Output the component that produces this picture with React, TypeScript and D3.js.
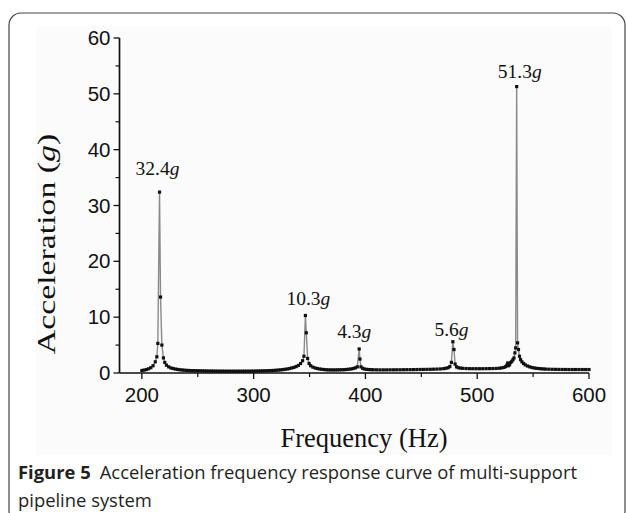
import React, { useEffect, useRef } from 'react';
import * as d3 from 'd3';

// frequency (Hz) and acceleration (g)
const freqs = [
  200, 202, 204, 206, 208, 210, 212, 213.4, 214.3, 215.8, 216.7, 217.9, 219.3, 220.5, 222, 224, 226, 228, 230,
  232, 234, 236, 238, 240, 242, 244, 246, 248, 250, 252, 254, 256, 258, 260, 262, 264, 266, 268, 270,
  272, 274, 276, 278, 280, 282, 284, 286, 288, 290, 292, 294, 296, 298, 300, 302, 304, 306, 308, 310,
  312, 314, 316, 318, 320, 322, 324, 326, 328, 330, 332, 334, 336, 338, 340, 342, 343.8, 345, 346.3, 347.1,
  348.3, 349.6, 351, 353, 355, 357, 359, 361, 363, 365, 367, 369, 371, 373, 375, 377, 379, 381, 383,
  385, 387, 389, 391, 392.7, 394.4, 395.1, 396, 397.5, 399, 401, 403, 405, 407, 410, 413, 416, 419, 422,
  425, 428, 431, 434, 437, 440, 443, 446, 449, 452, 455, 458, 461, 464, 467, 470, 472, 474, 475.5, 476.9,
  478.2, 479.2, 480.2, 481.5, 483, 485, 487, 490, 493, 496, 499, 502, 505, 508, 511, 514, 517, 520, 522,
  524, 525.5, 526.5, 527.3, 528, 529, 530, 531, 532, 532.9, 533.7, 534.4, 535.3, 536.1, 536.9, 537.8, 538.8, 540,
  541.5, 543, 545, 547, 549, 551, 553, 555, 557, 559, 561, 564, 567, 570, 573, 576, 579, 582, 585,
  588, 591, 594, 597, 600,
];
const accel = [
  0.45, 0.52, 0.62, 0.75, 0.95, 1.3, 2.0, 2.9, 5.3, 32.4, 13.6, 5.0, 2.7, 1.9, 1.4, 1.1, 0.9, 0.8, 0.7,
  0.64, 0.58, 0.54, 0.5, 0.47, 0.45, 0.43, 0.42, 0.41, 0.4, 0.39, 0.38, 0.37, 0.36, 0.35, 0.35, 0.34, 0.34, 0.33, 0.33,
  0.33, 0.32, 0.32, 0.32, 0.32, 0.32, 0.32, 0.32, 0.32, 0.32, 0.33, 0.33, 0.33, 0.34, 0.34, 0.35, 0.36, 0.37, 0.38, 0.39,
  0.4, 0.42, 0.44, 0.46, 0.49, 0.52, 0.56, 0.6, 0.66, 0.72, 0.8, 0.9, 1.0, 1.15, 1.35, 1.7, 2.2, 3.0, 10.3, 7.2,
  2.6, 1.7, 1.3, 1.05, 0.9, 0.8, 0.72, 0.66, 0.62, 0.58, 0.56, 0.55, 0.55, 0.55, 0.56, 0.57, 0.58, 0.6, 0.63,
  0.67, 0.72, 0.8, 0.92, 1.1, 4.3, 2.5, 1.1, 0.85, 0.72, 0.65, 0.62, 0.6, 0.58, 0.57, 0.56, 0.56, 0.56, 0.57,
  0.57, 0.58, 0.58, 0.59, 0.6, 0.6, 0.61, 0.62, 0.63, 0.64, 0.65, 0.66, 0.68, 0.7, 0.73, 0.78, 0.85, 0.95, 1.15, 1.9,
  5.6, 4.2, 1.6, 1.1, 0.95, 0.88, 0.84, 0.8, 0.78, 0.77, 0.77, 0.77, 0.77, 0.78, 0.79, 0.8, 0.82, 0.86, 0.92,
  1.0, 1.15, 1.4, 1.8, 1.3, 1.5, 1.9, 2.1, 2.4, 2.7, 3.6, 4.5, 51.3, 5.4, 4.2, 3.0, 2.4, 2.0,
  1.7, 1.45, 1.25, 1.1, 0.98, 0.9, 0.84, 0.8, 0.76, 0.73, 0.7, 0.68, 0.66, 0.65, 0.64, 0.63, 0.63, 0.62, 0.62,
  0.62, 0.62, 0.62, 0.62, 0.62,
];

// peak annotations: text, anchor frequency and height (g)
const peakTexts = ['32.4', '10.3', '4.3', '5.6', '51.3'];
const peakFreqs = [214, 349, 390, 477, 538];
const peakLevels = [35.4, 12.1, 6.3, 6.7, 52.8];

const xTicks = [200, 300, 400, 500, 600];
const xMinor = [250, 350, 450, 550];
const yTicks = [0, 10, 20, 30, 40, 50, 60];
const yMinor = [5, 15, 25, 35, 45, 55];

const W = 627;
const H = 513;

const App = () => {
  const svgRef = useRef(null);

  useEffect(() => {
    const svg = d3.select(svgRef.current);
    svg.selectAll('*').remove();

    // frame of the figure panel
    svg.append('rect')
      .attr('x', 9).attr('y', 13)
      .attr('width', 616).attr('height', 510)
      .attr('rx', 12)
      .attr('fill', '#fff')
      .attr('stroke', '#444')
      .attr('stroke-width', 1.2);

    svg.append('rect')
      .attr('x', 36).attr('y', 27)
      .attr('width', 576).attr('height', 428)
      .attr('fill', '#fbfbfb');

    const x = d3.scaleLinear().domain([180, 600]).range([119.5, 589]);
    const y = d3.scaleLinear().domain([0, 60]).range([373, 38]);

    const g = svg.append('g');

    // axes
    const xAxis = g.append('g').attr('transform', `translate(0,${y(0)})`);
    xAxis.append('line')
      .attr('x1', x(180)).attr('x2', x(600))
      .attr('stroke', '#111').attr('stroke-width', 1.7);
    xAxis.selectAll('.maj')
      .data(xTicks).enter().append('line')
      .attr('x1', d => x(d)).attr('x2', d => x(d))
      .attr('y1', 0).attr('y2', 6)
      .attr('stroke', '#111').attr('stroke-width', 1.3);
    xAxis.selectAll('.min')
      .data(xMinor).enter().append('line')
      .attr('x1', d => x(d)).attr('x2', d => x(d))
      .attr('y1', 0).attr('y2', 4)
      .attr('stroke', '#111').attr('stroke-width', 1.2);
    xAxis.selectAll('text')
      .data(xTicks).enter().append('text')
      .attr('x', d => x(d))
      .attr('y', 29)
      .attr('text-anchor', 'middle')
      .style('font-family', '"Liberation Sans", Arial, sans-serif')
      .style('font-size', '20.5px')
      .attr('fill', '#111')
      .text(d => d);

    const yAxis = g.append('g').attr('transform', `translate(${x(180)},0)`);
    yAxis.append('line')
      .attr('y1', y(0)).attr('y2', y(60))
      .attr('stroke', '#111').attr('stroke-width', 1.7);
    yAxis.selectAll('.maj')
      .data(yTicks).enter().append('line')
      .attr('y1', d => y(d)).attr('y2', d => y(d))
      .attr('x1', 0).attr('x2', -6)
      .attr('stroke', '#111').attr('stroke-width', 1.3);
    yAxis.selectAll('.min')
      .data(yMinor).enter().append('line')
      .attr('y1', d => y(d)).attr('y2', d => y(d))
      .attr('x1', 0).attr('x2', -4)
      .attr('stroke', '#111').attr('stroke-width', 1.2);
    yAxis.selectAll('text')
      .data(yTicks).enter().append('text')
      .attr('x', -9)
      .attr('y', d => y(d) + 7)
      .attr('text-anchor', 'end')
      .style('font-family', '"Liberation Sans", Arial, sans-serif')
      .style('font-size', '20.5px')
      .attr('fill', '#111')
      .text(d => d);

    // response curve
    const pts = freqs.map((f, i) => [f, accel[i]]);
    const line = d3.line().x(d => x(d[0])).y(d => y(d[1]));
    g.append('path')
      .datum(pts)
      .attr('d', line)
      .attr('fill', 'none')
      .attr('stroke', '#8a8a8a')
      .attr('stroke-width', 1.4);
    g.selectAll('.pt')
      .data(pts).enter().append('rect')
      .attr('x', d => x(d[0]) - 1.6)
      .attr('y', d => y(d[1]) - 1.6)
      .attr('width', 3.2).attr('height', 3.2)
      .attr('fill', '#111');

    // peak labels
    peakTexts.forEach((t, i) => {
      const txt = g.append('text')
        .attr('x', x(peakFreqs[i]))
        .attr('y', y(peakLevels[i]))
        .attr('text-anchor', 'middle')
        .style('font-family', '"Liberation Serif", "Times New Roman", serif')
        .style('font-size', '19.5px')
        .attr('fill', '#111');
      txt.append('tspan').text(t);
      txt.append('tspan').style('font-style', 'italic').text('g');
    });

    // axis titles
    svg.append('text')
      .attr('x', 364)
      .attr('y', 447)
      .attr('text-anchor', 'middle')
      .style('font-family', '"Liberation Serif", "Times New Roman", serif')
      .style('font-size', '26.5px')
      .attr('fill', '#111')
      .text('Frequency (Hz)');

    // the y title is a little stretched along its length in the source figure
    const yt = svg.append('text')
      .attr('transform', 'translate(55,244) rotate(-90) scale(1.3,1)')
      .attr('text-anchor', 'middle')
      .style('font-family', '"Liberation Serif", "Times New Roman", serif')
      .style('font-size', '26px')
      .attr('fill', '#111');
    yt.append('tspan').text('Acceleration (');
    yt.append('tspan').style('font-style', 'italic').text('g');
    yt.append('tspan').text(')');

    // caption
    const cap = svg.append('text')
      .attr('x', 18)
      .attr('y', 479)
      .style('font-family', '"Open Sans", "Noto Sans", sans-serif')
      .style('font-size', '18.4px')
      .attr('fill', '#231f20');
    cap.append('tspan').style('font-weight', 'bold').text('Figure 5');
    cap.append('tspan').attr('dx', 9).text('Acceleration frequency response curve of multi-support');
    svg.append('text')
      .attr('x', 18)
      .attr('y', 507)
      .style('font-family', '"Open Sans", "Noto Sans", sans-serif')
      .style('font-size', '18.4px')
      .attr('fill', '#231f20')
      .text('pipeline system');
  }, []);

  return (
    <svg
      ref={svgRef}
      width={W}
      height={H}
      style={{ position: 'absolute', left: 0, top: 0, background: '#fff' }}
    />
  );
};

export default App;
